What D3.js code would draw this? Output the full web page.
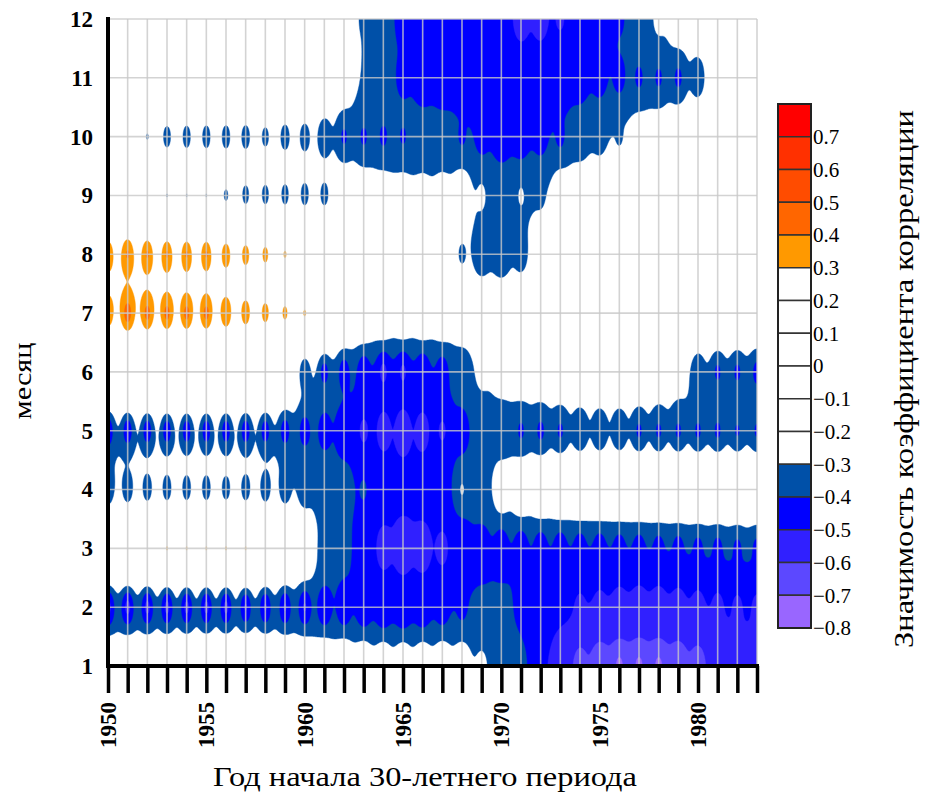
<!DOCTYPE html>
<html>
<head>
<meta charset="utf-8">
<script src="https://cdn.jsdelivr.net/npm/d3@7"></script>
<style>
  body { margin: 0; background: #fff; }
  svg { display: block; }
  text { font-family: "Liberation Serif", "Times New Roman", serif; fill: #000; }
</style>
</head>
<body>
<svg id="chart" width="925" height="796"></svg>
<script>
// Start years of the 30-year windows and calendar months
const years = d3.range(1950, 1984);
const months = d3.range(1, 13);

// Correlation coefficient for each month, one value per start year 1950..1983
const m1  = [-0.13,-0.13,-0.13,-0.13,-0.13,-0.13,-0.13,-0.13,-0.13,-0.13,-0.13,
             -0.12,-0.12,-0.15,-0.15,-0.15,-0.15,-0.15,-0.18,-0.27,-0.32,
             -0.37,-0.5,-0.6,-0.66,-0.7,-0.72,-0.72,-0.72,-0.7,-0.67,
             -0.58,-0.57,-0.57];
const m2  = [-0.53,-0.53,-0.53,-0.53,-0.53,-0.53,-0.53,-0.51,-0.51,-0.51,-0.51,
             -0.5,-0.48,-0.48,-0.48,-0.48,-0.47,-0.45,-0.42,-0.39,-0.39,
             -0.41,-0.46,-0.5,-0.52,-0.53,-0.55,-0.56,-0.56,-0.55,-0.54,
             -0.53,-0.52,-0.52];
const m3  = [0.22,0.22,0.22,0.305,0.305,0.305,0.305,0.305,0.22,0.18,0.0,
             -0.33,-0.37,-0.47,-0.57,-0.6,-0.59,-0.55,-0.5,-0.48,-0.48,
             -0.48,-0.47,-0.47,-0.46,-0.46,-0.45,-0.45,-0.44,-0.44,-0.43,
             -0.43,-0.42,-0.42];
const m4  = [-0.38,-0.36,-0.35,-0.35,-0.35,-0.35,-0.345,-0.35,-0.355,-0.36,-0.36,
             -0.35,-0.35,-0.39,-0.45,-0.48,-0.46,-0.41,-0.29,-0.3,-0.15,
             -0.1,-0.06,-0.03,-0.01,0.0,0.01,0.02,0.03,0.04,0.05,
             0.05,0.05,0.05];
const m5  = [-0.48,-0.47,-0.47,-0.47,-0.47,-0.47,-0.47,-0.47,-0.46,-0.46,-0.46,
             -0.46,-0.48,-0.53,-0.56,-0.57,-0.56,-0.52,-0.46,-0.4,-0.39,
             -0.42,-0.43,-0.42,-0.4,-0.4,-0.4,-0.42,-0.42,-0.42,-0.42,
             -0.42,-0.41,-0.41];
const m6  = [0.05,0.05,0.05,0.05,0.05,0.05,0.05,0.05,0.05,-0.08,-0.4,
             -0.44,-0.46,-0.48,-0.53,-0.52,-0.49,-0.46,-0.38,-0.27,-0.25,
             -0.24,-0.24,-0.23,-0.23,-0.22,-0.22,-0.23,-0.26,-0.3,-0.39,
             -0.42,-0.42,-0.43];
const m7  = [0.36,0.45,0.43,0.43,0.43,0.43,0.4,0.37,0.35,0.33,0.31,
             0.15,-0.05,-0.1,-0.12,-0.12,-0.12,-0.12,-0.12,-0.12,-0.12,
             -0.1,-0.1,-0.1,-0.1,-0.1,-0.1,-0.1,-0.1,-0.1,-0.1,
             -0.1,-0.1,-0.1];
const m8  = [0.36,0.41,0.41,0.41,0.41,0.41,0.38,0.36,0.34,0.31,0.2,
             0.1,0.0,-0.05,-0.08,-0.1,-0.12,-0.25,-0.31,-0.38,-0.4,
             -0.36,-0.22,-0.12,-0.08,-0.05,-0.05,-0.05,-0.05,-0.05,-0.05,
             -0.05,-0.05,-0.05];
const m9  = [-0.05,-0.1,-0.2,-0.302,-0.302,-0.302,-0.32,-0.35,-0.35,-0.35,-0.35,
             -0.34,-0.25,-0.26,-0.26,-0.26,-0.26,-0.24,-0.15,-0.28,-0.37,
             -0.29,-0.31,-0.2,-0.17,-0.14,-0.12,-0.1,-0.08,-0.05,-0.05,
             -0.05,-0.05,-0.05];
const m10 = [0.0,-0.1,-0.305,-0.35,-0.35,-0.35,-0.35,-0.35,-0.33,-0.35,-0.35,
             -0.38,-0.42,-0.42,-0.42,-0.41,-0.39,-0.39,-0.41,-0.44,-0.46,
             -0.46,-0.45,-0.42,-0.38,-0.35,-0.31,-0.26,-0.27,-0.25,-0.2,
             -0.08,-0.05,-0.05];
const m11 = [-0.305,-0.05,-0.05,-0.05,-0.05,-0.05,-0.05,-0.05,-0.05,-0.05,-0.05,
             -0.12,-0.22,-0.3,-0.38,-0.43,-0.46,-0.46,-0.46,-0.47,-0.48,
             -0.5,-0.5,-0.48,-0.46,-0.45,-0.44,-0.42,-0.42,-0.43,-0.4,
             -0.25,-0.12,-0.05];
const m12 = [-0.05,-0.05,-0.05,-0.05,-0.05,-0.05,-0.05,-0.05,-0.05,-0.05,-0.08,
             -0.12,-0.2,-0.31,-0.38,-0.43,-0.45,-0.45,-0.46,-0.47,-0.49,
             -0.53,-0.53,-0.51,-0.47,-0.46,-0.41,-0.36,-0.28,-0.22,-0.18,
             -0.08,-0.05,-0.05];
const rows = [m1, m2, m3, m4, m5, m6, m7, m8, m9, m10, m11, m12];

// Axis labels and colour key
const yearLabels = [1950, 1955, 1960, 1965, 1970, 1975, 1980];
const keyTicks = [0.7, 0.6, 0.5, 0.4, 0.3, 0.2, 0.1, 0, -0.1, -0.2, -0.3, -0.4, -0.5, -0.6, -0.7, -0.8];
const posLevels = [0.3, 0.4, 0.5, 0.6, 0.7];
const posColors = ["#ff9900", "#ff6600", "#ff4c00", "#ff3000", "#ff0000"];
const negLevels = [-0.3, -0.4, -0.5, -0.6, -0.7];
const negColors = ["#0050a8", "#0000ff", "#3020ff", "#5c48ff", "#9966ff"];

const svg = d3.select("#chart");
const x = d3.scaleLinear().domain([1950, 1983]).range([108, 757]);
const y = d3.scaleLinear().domain([1, 12]).range([666, 19]);

// Interpolated surface: inverse-distance weighting over the year/month nodes
const dx = 0.05, dy = 0.025;
const nx = Math.round(33 / dx) + 1, ny = Math.round(11 / dy) + 1;
const R = 6, R2 = R * R;
const surface = new Array(nx * ny);
for (let j = 0; j < ny; j++) {
  const mo = 12 - j * dy;
  for (let i = 0; i < nx; i++) {
    const yr = i * dx;
    let sw = 0, sv = 0, exact = null;
    for (let r = 0; r < 12 && exact === null; r++) {
      const ddy = mo - (r + 1);
      if (Math.abs(ddy) >= R) continue;
      const row = rows[r];
      const c0 = Math.max(0, Math.ceil(yr - R)), c1 = Math.min(33, Math.floor(yr + R));
      for (let c = c0; c <= c1; c++) {
        const ddx = yr - c;
        const d2 = ddx * ddx + ddy * ddy;
        if (d2 >= R2) continue;
        if (d2 < 1e-9) { exact = row[c]; break; }
        const t = 1 - d2 / R2;
        const w = t * t / d2;
        sw += w; sv += w * row[c];
      }
    }
    surface[j * nx + i] = exact !== null ? exact : sv / sw;
  }
}

const proj = d3.geoTransform({
  point(px, py) {
    this.stream.point(x(1950 + (px - 0.5) * dx), y(12 - (py - 0.5) * dy));
  }
});
const path = d3.geoPath(proj);

svg.append("defs").append("clipPath").attr("id", "plotClip")
  .append("rect").attr("x", 108).attr("y", 19).attr("width", 649).attr("height", 647);

const plot = svg.append("g").attr("clip-path", "url(#plotClip)");

const negSurface = surface.map(v => -v);
const negBands = d3.contours().size([nx, ny]).thresholds(negLevels.map(v => -v))(negSurface);
const posBands = d3.contours().size([nx, ny]).thresholds(posLevels)(surface);

plot.selectAll("path.neg").data(negBands).join("path")
  .attr("class", "neg")
  .attr("d", path)
  .attr("fill", (d, k) => negColors[k])
  .attr("stroke", (d, k) => negColors[k])
  .attr("stroke-width", 0.4);

plot.selectAll("path.pos").data(posBands).join("path")
  .attr("class", "pos")
  .attr("d", path)
  .attr("fill", (d, k) => posColors[k])
  .attr("stroke", (d, k) => posColors[k])
  .attr("stroke-width", 0.4);

// Grid lines over the filled contours
const grid = svg.append("g").attr("stroke", "rgba(200,200,200,0.8)").attr("stroke-width", 1.6);
grid.selectAll("line.v").data(years).join("line").attr("class", "v")
  .attr("x1", d => x(d)).attr("x2", d => x(d)).attr("y1", y(12)).attr("y2", y(1));
grid.selectAll("line.h").data(months).join("line").attr("class", "h")
  .attr("x1", x(1950)).attr("x2", x(1983)).attr("y1", d => y(d)).attr("y2", d => y(d));

// Bottom axis: a thick tick for every year, labels every five years
const xAxis = svg.append("g").attr("transform", `translate(0,${y(1)})`)
  .call(d3.axisBottom(x).tickValues(years).tickSize(27).tickSizeOuter(0).tickFormat(""));
xAxis.select(".domain").attr("stroke", "#000").attr("stroke-width", 4)
  .attr("d", `M${x(1950) - 2},0H${x(1983) + 2}`);
xAxis.selectAll(".tick line").attr("stroke", "#000").attr("stroke-width", 3.5);

svg.append("g").selectAll("text").data(yearLabels).join("text")
  .attr("transform", d => `translate(${x(d)},702) rotate(-90)`)
  .attr("text-anchor", "end")
  .attr("dy", "0.35em")
  .attr("font-size", 23)
  .attr("font-weight", "bold")
  .text(d => d);

// Left axis
const yAxis = svg.append("g").attr("transform", `translate(${x(1950)},0)`)
  .call(d3.axisLeft(y).tickValues(months).tickSize(0).tickPadding(15));
yAxis.select(".domain").attr("stroke", "#000").attr("stroke-width", 4)
  .attr("d", `M0,${y(12) - 2}V${y(1) + 2}`);
yAxis.selectAll(".tick text")
  .attr("font-family", "'Liberation Serif', 'Times New Roman', serif")
  .attr("font-size", 23).attr("font-weight", "bold").attr("fill", "#000");

// Axis titles
svg.append("text")
  .attr("x", 425).attr("y", 786)
  .attr("text-anchor", "middle")
  .attr("font-size", 27)
  .attr("textLength", 424).attr("lengthAdjust", "spacingAndGlyphs")
  .text("Год начала 30-летнего периода");

svg.append("text")
  .attr("transform", "translate(31,381) rotate(-90)")
  .attr("text-anchor", "middle")
  .attr("font-size", 26)
  .attr("textLength", 77).attr("lengthAdjust", "spacingAndGlyphs")
  .text("месяц");

// Colour key
const kb = d3.scaleLinear().domain([0.8, -0.8]).range([104, 628]);
const edges = [0.8, ...keyTicks];
const bins = d3.pairs(edges).map(([hi, lo]) => {
  const mid = (hi + lo) / 2;
  let color = "#ffffff";
  if (mid > 0.3) color = posColors[Math.min(4, Math.floor((mid - 0.3) / 0.1 + 1e-9))];
  else if (mid < -0.3) color = negColors[Math.min(4, Math.floor((-mid - 0.3) / 0.1 + 1e-9))];
  return { hi, lo, color };
});
const key = svg.append("g");
key.selectAll("rect").data(bins).join("rect")
  .attr("x", 778).attr("width", 33)
  .attr("y", d => kb(d.hi)).attr("height", d => kb(d.lo) - kb(d.hi))
  .attr("fill", d => d.color)
  .attr("stroke", "#333").attr("stroke-width", 1.5);
key.append("rect")
  .attr("x", 778).attr("y", kb(0.8)).attr("width", 33).attr("height", kb(-0.8) - kb(0.8))
  .attr("fill", "none").attr("stroke", "#222").attr("stroke-width", 2);
key.selectAll("text").data(keyTicks).join("text")
  .attr("x", 813).attr("y", d => kb(d))
  .attr("dy", "0.35em")
  .attr("font-size", 21)
  .text(d => d3.format("")(Math.round(d * 10) / 10));

svg.append("text")
  .attr("transform", "translate(913,379) rotate(-90)")
  .attr("text-anchor", "middle")
  .attr("font-size", 27)
  .attr("textLength", 538).attr("lengthAdjust", "spacingAndGlyphs")
  .text("Значимость коэффициента корреляции");
</script>
</body>
</html>
